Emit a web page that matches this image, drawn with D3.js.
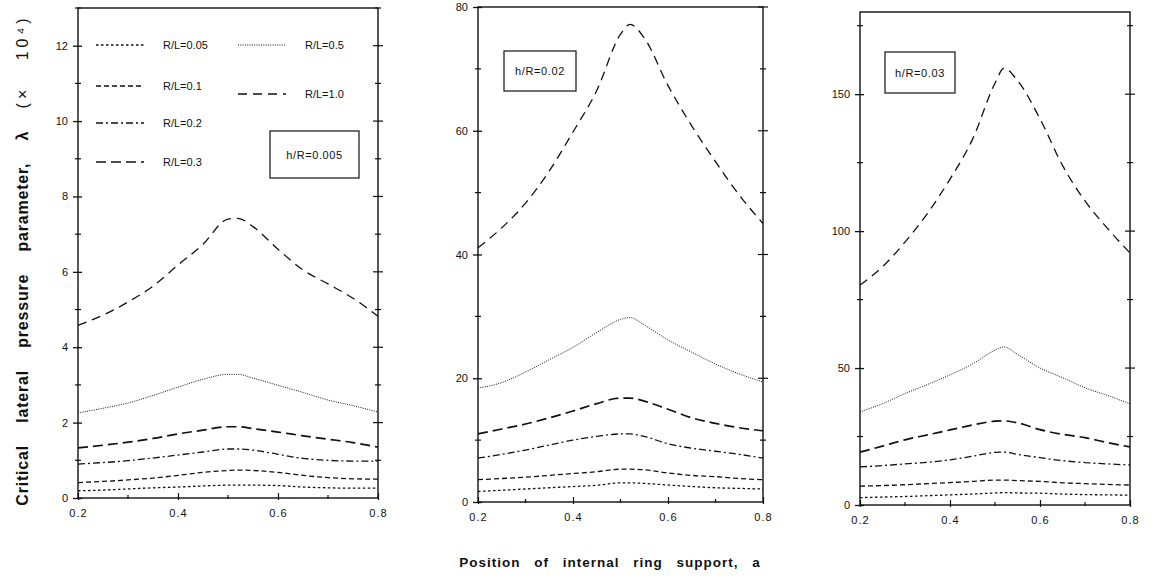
<!DOCTYPE html>
<html>
<head>
<meta charset="utf-8">
<script src="https://cdn.jsdelivr.net/npm/d3@7"></script>
<style>
  html, body { margin: 0; padding: 0; background: #fff; }
  svg { display: block; }
  text { font-family: "Liberation Sans", Arial, sans-serif; fill: #111; }
</style>
</head>
<body>
<svg id="chart" width="1151" height="587"></svg>
<script>
// Ring position a along the shell
const positions = [0.2, 0.25, 0.3, 0.35, 0.4, 0.45, 0.5, 0.52, 0.55, 0.6, 0.65, 0.7, 0.75, 0.8];
const ratios = ["R/L=0.05", "R/L=0.1", "R/L=0.2", "R/L=0.3", "R/L=0.5", "R/L=1.0"];
const thicknessLabels = ["h/R=0.005", "h/R=0.02", "h/R=0.03"];
const xTicks = [0.2, 0.4, 0.6, 0.8];

// Critical lateral pressure parameter (x10^4), h/R = 0.005
const thin_RL005 = [0.19, 0.21, 0.24, 0.27, 0.29, 0.32, 0.34, 0.34, 0.34, 0.33, 0.29, 0.27, 0.26, 0.26];
const thin_RL01  = [0.41, 0.44, 0.48, 0.53, 0.60, 0.68, 0.73, 0.74, 0.73, 0.68, 0.60, 0.54, 0.51, 0.50];
const thin_RL02  = [0.90, 0.94, 0.99, 1.06, 1.14, 1.22, 1.30, 1.30, 1.27, 1.16, 1.05, 1.00, 0.98, 0.98];
const thin_RL03  = [1.33, 1.40, 1.48, 1.58, 1.70, 1.80, 1.89, 1.89, 1.84, 1.75, 1.65, 1.56, 1.47, 1.35];
const thin_RL05  = [2.26, 2.38, 2.52, 2.72, 2.94, 3.15, 3.28, 3.28, 3.18, 2.99, 2.80, 2.60, 2.45, 2.28];
const thin_RL10  = [4.58, 4.85, 5.20, 5.62, 6.18, 6.73, 7.40, 7.42, 7.20, 6.60, 6.05, 5.68, 5.30, 4.82];

// h/R = 0.02
const mid_RL005 = [1.7, 1.9, 2.1, 2.3, 2.5, 2.7, 3.1, 3.1, 3.0, 2.75, 2.5, 2.3, 2.2, 2.1];
const mid_RL01  = [3.6, 3.8, 4.0, 4.3, 4.6, 4.9, 5.3, 5.3, 5.2, 4.7, 4.3, 4.1, 3.8, 3.6];
const mid_RL02  = [7.1, 7.7, 8.4, 9.2, 10.0, 10.6, 11.0, 11.0, 10.6, 9.4, 8.7, 8.2, 7.7, 7.1];
const mid_RL03  = [11.0, 11.8, 12.6, 13.6, 14.7, 15.9, 16.8, 16.8, 16.3, 15.0, 13.6, 12.7, 12.0, 11.5];
const mid_RL05  = [18.4, 19.3, 21.0, 23.0, 25.0, 27.4, 29.5, 29.8, 28.6, 26.2, 24.2, 22.3, 20.7, 19.4];
const mid_RL10  = [41.1, 44.3, 48.3, 53.5, 59.8, 66.5, 75.6, 77.2, 75.0, 67.3, 60.8, 55.0, 49.6, 45.0];

// h/R = 0.03
const thick_RL005 = [2.7, 2.9, 3.1, 3.4, 3.7, 4.0, 4.4, 4.5, 4.4, 4.3, 4.0, 3.8, 3.7, 3.6];
const thick_RL01  = [6.9, 7.1, 7.4, 7.8, 8.2, 8.6, 9.1, 9.1, 8.9, 8.6, 8.1, 7.8, 7.5, 7.3];
const thick_RL02  = [13.9, 14.4, 15.0, 15.6, 16.5, 17.8, 19.2, 19.3, 18.5, 17.3, 16.2, 15.5, 15.0, 14.6];
const thick_RL03  = [19.3, 21.5, 23.8, 25.6, 27.4, 29.2, 30.6, 30.7, 30.0, 27.5, 25.8, 24.6, 22.8, 21.2];
const thick_RL05  = [34.0, 37.0, 40.7, 44.0, 47.5, 51.5, 56.5, 57.7, 55.0, 50.0, 46.5, 42.8, 40.0, 36.9];
const thick_RL10  = [80.3, 87.0, 96.0, 106.5, 119.0, 133.5, 154.0, 159.5, 155.0, 141.0, 124.0, 111.0, 101.0, 92.0];

// Line style per R/L ratio
const styles = [
  { dash: "2.5,2.5", width: 1.3 },
  { dash: "5,3", width: 1.3 },
  { dash: "7,3,2,3", width: 1.3 },
  { dash: "10,5", width: 1.7 },
  { dash: "1,1.3", width: 1.0 },
  { dash: "9,6", width: 1.3 }
];

const panels = [
  { left: 78, right: 378, top: 8, bottom: 498, yMax: 13, yMajor: [0, 2, 4, 6, 8, 10, 12], yMinorStep: 1,
    series: [thin_RL005, thin_RL01, thin_RL02, thin_RL03, thin_RL05, thin_RL10],
    box: { x: 270, y: 131, w: 89, h: 47 } },
  { left: 478, right: 763, top: 7, bottom: 502, yMax: 80, yMajor: [0, 20, 40, 60, 80], yMinorStep: 10,
    series: [mid_RL005, mid_RL01, mid_RL02, mid_RL03, mid_RL05, mid_RL10],
    box: { x: 504, y: 51, w: 72, h: 40 } },
  { left: 860, right: 1130, top: 12, bottom: 505, yMax: 180, yMajor: [0, 50, 100, 150], yMinorStep: 25,
    series: [thick_RL005, thick_RL01, thick_RL02, thick_RL03, thick_RL05, thick_RL10],
    box: { x: 885, y: 52, w: 70, h: 41 } }
];

const svg = d3.select("#chart");

panels.forEach((p, pi) => {
  const x = d3.scaleLinear().domain([0.2, 0.8]).range([p.left, p.right]);
  const y = d3.scaleLinear().domain([0, p.yMax]).range([p.bottom, p.top]);
  const g = svg.append("g");

  // Curves
  const line = d3.line().x((d, i) => x(positions[i])).y(d => y(d)).curve(d3.curveMonotoneX);
  p.series.forEach((vals, si) => {
    g.append("path")
      .attr("d", line(vals))
      .attr("fill", "none")
      .attr("stroke", "#111")
      .attr("stroke-width", styles[si].width)
      .attr("stroke-dasharray", styles[si].dash);
  });

  // Frame
  g.append("rect")
    .attr("x", p.left).attr("y", p.top)
    .attr("width", p.right - p.left).attr("height", p.bottom - p.top)
    .attr("fill", "none").attr("stroke", "#111").attr("stroke-width", 1.4);

  // Left y axis with labels
  const yAxis = d3.axisLeft(y).tickValues(p.yMajor).tickSize(5).tickPadding(5).tickFormat(d3.format("d"));
  const ya = g.append("g").attr("transform", `translate(${p.left},0)`).call(yAxis);
  ya.select(".domain").remove();
  ya.selectAll("line").attr("x2", -5).attr("x1", 4).attr("stroke", "#111").attr("stroke-width", 1.3);
  ya.selectAll("text").attr("font-size", 11).attr("fill", "#111");

  // Right y ticks and left minor ticks
  const minor = d3.range(0, p.yMax + 0.001, p.yMinorStep);
  const yr = g.append("g");
  minor.forEach(v => {
    const major = p.yMajor.includes(v);
    const len = major ? 5 : 3;
    if (v === 0) return;
    yr.append("line").attr("x1", p.right - len).attr("x2", p.right + len)
      .attr("y1", y(v)).attr("y2", y(v)).attr("stroke", "#111").attr("stroke-width", 1.2);
    if (!major) {
      yr.append("line").attr("x1", p.left - 3).attr("x2", p.left + 3)
        .attr("y1", y(v)).attr("y2", y(v)).attr("stroke", "#111").attr("stroke-width", 1.2);
    }
  });

  // Bottom x axis
  const xAxis = d3.axisBottom(x).tickValues(xTicks).tickSize(4).tickPadding(7).tickFormat(d3.format(".1f"));
  const xa = g.append("g").attr("transform", `translate(0,${p.bottom})`).call(xAxis);
  xa.select(".domain").remove();
  xa.selectAll("line").attr("y1", -5).attr("y2", 2).attr("stroke", "#111").attr("stroke-width", 1.2);
  xa.selectAll("text").attr("font-size", 11).attr("fill", "#111").attr("letter-spacing", 1);
  [0.3, 0.5, 0.7].forEach(v => {
    g.append("line").attr("x1", x(v)).attr("x2", x(v)).attr("y1", p.bottom - 3).attr("y2", p.bottom + 1)
      .attr("stroke", "#111").attr("stroke-width", 1.2);
  });

  // Thickness box
  g.append("rect").attr("x", p.box.x).attr("y", p.box.y).attr("width", p.box.w).attr("height", p.box.h)
    .attr("fill", "#fff").attr("stroke", "#111").attr("stroke-width", 1.2);
  g.append("text").attr("x", p.box.x + p.box.w / 2).attr("y", p.box.y + p.box.h / 2 + 4)
    .attr("text-anchor", "middle").attr("font-size", 11).attr("letter-spacing", 0.6)
    .text(thicknessLabels[pi]);
});

// Legend (first panel)
const legendPos = [
  { x: 96, y: 45 }, { x: 96, y: 86 }, { x: 96, y: 123 }, { x: 96, y: 162 },
  { x: 238, y: 45 }, { x: 238, y: 94 }
];
const lg = svg.append("g");
ratios.forEach((r, i) => {
  const pos = legendPos[i];
  lg.append("line").attr("x1", pos.x).attr("x2", pos.x + 48).attr("y1", pos.y).attr("y2", pos.y)
    .attr("stroke", "#111").attr("stroke-width", styles[i].width).attr("stroke-dasharray", styles[i].dash);
  lg.append("text").attr("x", pos.x + 67).attr("y", pos.y + 4).attr("font-size", 11).text(r);
});

// Axis titles
const yTitle = svg.append("text")
  .attr("transform", "translate(28,260) rotate(-90)")
  .attr("text-anchor", "middle")
  .attr("font-size", 16).attr("font-weight", "bold").attr("word-spacing", 17).attr("letter-spacing", 0.8);
yTitle.append("tspan").text("Critical lateral pressure parameter, λ ");
yTitle.append("tspan").attr("font-weight", "normal").attr("letter-spacing", 4).text("(× 10⁴)");

svg.append("text")
  .attr("x", 610).attr("y", 567)
  .attr("text-anchor", "middle")
  .attr("font-size", 13.5).attr("font-weight", "bold").attr("word-spacing", 9).attr("letter-spacing", 1)
  .text("Position of internal ring support, a");
</script>
</body>
</html>
